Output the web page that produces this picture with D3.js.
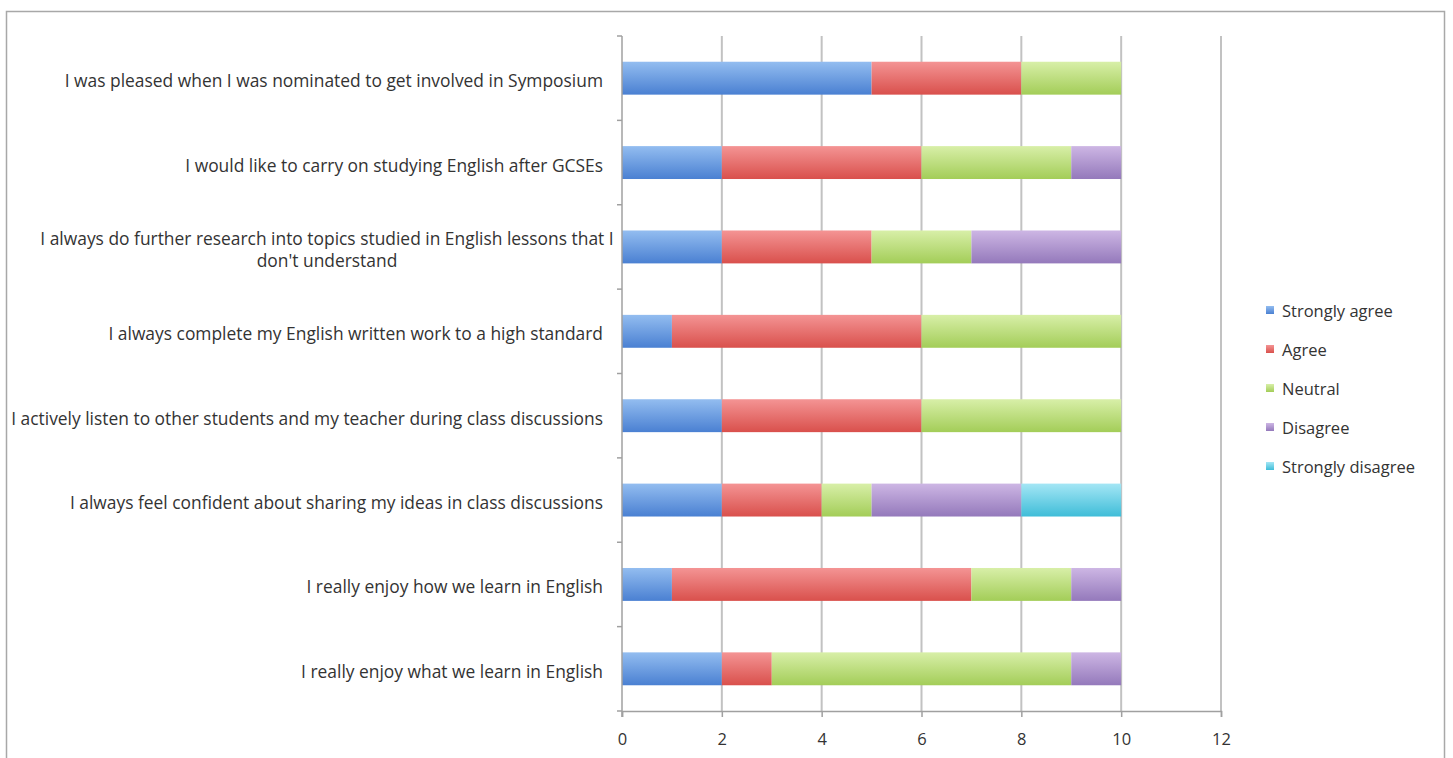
<!DOCTYPE html>
<html><head><meta charset="utf-8">
<script src="https://cdn.jsdelivr.net/npm/d3@7"></script>
<style>
html,body{margin:0;padding:0;background:#fff;}
svg{display:block;}
text{font-family:"Open Sans",Lato,sans-serif;fill:#333;}
</style></head>
<body>
<svg id="chart" width="1453" height="758"></svg>
<script>
const categories = [
  "I was pleased when I was nominated to get involved in Symposium",
  "I would like to carry on studying English after GCSEs",
  "I always do further research into topics studied in English lessons that I don't understand",
  "I always complete my English written work to a high standard",
  "I actively listen to other students and my teacher during class discussions",
  "I always feel confident about sharing my ideas in class discussions",
  "I really enjoy how we learn in English",
  "I really enjoy what we learn in English"
];
const seriesNames = ["Strongly agree","Agree","Neutral","Disagree","Strongly disagree"];
const stronglyAgree    = [5,2,2,1,2,2,1,2];
const agree            = [3,4,3,5,4,2,6,1];
const neutral          = [2,3,2,4,4,1,2,6];
const disagree         = [0,1,3,0,0,3,1,1];
const stronglyDisagree = [0,0,0,0,0,2,0,0];
const xTicks = [0,2,4,6,8,10,12];

const seriesValues = [stronglyAgree, agree, neutral, disagree, stronglyDisagree];
const topColors = ["#93bdf0","#f49494","#d8efa8","#cdb6e4","#a4e6f5"];
const botColors = ["#4a80d2","#d9504c","#a3cd58","#9479bb","#3fbdd8"];

const svg = d3.select("#chart");
const defs = svg.append("defs");
seriesNames.forEach((s,i)=>{
  const g = defs.append("linearGradient").attr("id","g"+i)
    .attr("x1",0).attr("y1",0).attr("x2",0).attr("y2",1);
  g.append("stop").attr("offset","0%").attr("stop-color",topColors[i]);
  g.append("stop").attr("offset","100%").attr("stop-color",botColors[i]);
});

// outer frame
svg.append("rect").attr("x",6.5).attr("y",11.5).attr("width",1438).attr("height",760)
  .attr("fill","#fff").attr("stroke","#a8a8a8").attr("stroke-width",1.5);

const pL = 622, pR = 1221, pT = 36, pB = 711;
const x = d3.scaleLinear().domain([0,12]).range([pL,pR]);
const y = d3.scaleBand().domain(categories).range([pT,pB]).paddingInner(0.61).paddingOuter(0.305);

// gridlines
svg.append("g").selectAll("line").data(xTicks.filter(t=>t>0)).join("line")
  .attr("x1",d=>x(d)).attr("x2",d=>x(d)).attr("y1",pT).attr("y2",pB)
  .attr("stroke","#c2c2c2").attr("stroke-width",2);

// stacked data
const rows = categories.map((c,i)=>{
  const o = {cat:c};
  seriesNames.forEach((s,j)=>o[s]=seriesValues[j][i]);
  return o;
});
const stack = d3.stack().keys(seriesNames)(rows);
svg.append("g").selectAll("g").data(stack).join("g")
  .attr("fill",(d,i)=>"url(#g"+i+")")
  .selectAll("rect").data(d=>d.filter(p=>p[1]>p[0])).join("rect")
  .attr("x",d=>x(d[0])).attr("width",d=>x(d[1])-x(d[0]))
  .attr("y",d=>y(d.data.cat)).attr("height",y.bandwidth());

// x axis
const xAxis = svg.append("g").attr("transform",`translate(0,${pB})`)
  .call(d3.axisBottom(x).tickValues(xTicks).tickSize(6).tickPadding(16).tickFormat(d3.format("d")));
xAxis.select(".domain").attr("stroke","#a0a0a0").attr("stroke-width",1.5);
xAxis.selectAll(".tick line").attr("stroke","#a0a0a0").attr("stroke-width",1.5);
xAxis.selectAll("text").attr("font-size",16.5).attr("fill","#333").style("font-family","'Open Sans',sans-serif");

// y axis line and ticks at band boundaries
const bounds = d3.range(categories.length+1).map(i=>pT+i*(pB-pT)/categories.length);
svg.append("line").attr("x1",pL).attr("x2",pL).attr("y1",pT).attr("y2",pB+6)
  .attr("stroke","#a0a0a0").attr("stroke-width",1.5);
svg.append("g").selectAll("line").data(bounds).join("line")
  .attr("x1",pL-5).attr("x2",pL).attr("y1",d=>d).attr("y2",d=>d)
  .attr("stroke","#a0a0a0").attr("stroke-width",1.5);

// category labels with wrapping
const maxW = 592;
const fs = 17.4;
const wrapCenter = 327;
const labels = svg.append("g");
categories.forEach(c=>{
  const cy = y(c)+y.bandwidth()/2 + 9;
  const t = labels.append("text").attr("font-size",fs);
  const words = c.split(" ");
  let lines = [], cur = [];
  const tmp = labels.append("text").attr("font-size",fs);
  words.forEach(w=>{
    const trial = cur.concat(w).join(" ");
    tmp.text(trial);
    if (tmp.node().getComputedTextLength() > maxW && cur.length){ lines.push(cur.join(" ")); cur=[w]; }
    else cur.push(w);
  });
  lines.push(cur.join(" "));
  tmp.remove();
  const lh = 22;
  if (lines.length===1){
    t.attr("text-anchor","end").attr("x",pL-19).attr("y",cy).text(lines[0]);
  } else {
    t.attr("text-anchor","middle");
    lines.forEach((ln,k)=>{
      t.append("tspan").attr("x",wrapCenter)
        .attr("y",cy + (k-(lines.length-1)/2)*lh).text(ln);
    });
  }
});

// legend
const lg = svg.append("g").attr("transform","translate(1266,311)");
seriesNames.forEach((s,i)=>{
  const g = lg.append("g").attr("transform",`translate(0,${i*39})`);
  g.append("rect").attr("x",0).attr("y",-5).attr("width",8).attr("height",8).attr("fill","url(#g"+i+")");
  g.append("text").attr("x",16).attr("y",6).attr("font-size",16.5).text(s);
});
</script>
</body></html>
